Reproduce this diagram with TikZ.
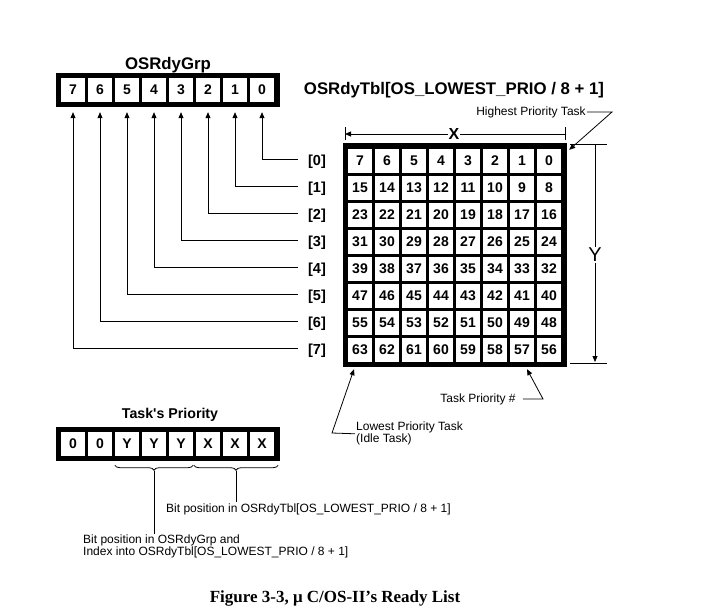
\documentclass[tikz,border=0pt]{standalone}
\usepackage{fontspec}
\setmainfont{Liberation Sans}
\newfontfamily\rawsans{Liberation Sans}
\newfontfamily\capfont{Liberation Serif}
\usetikzlibrary{arrows.meta,decorations.pathreplacing}

\begin{document}
\begin{tikzpicture}[x=1pt, y=-1pt,
  cell/.style={fill=white, minimum width=24pt, minimum height=24pt, inner sep=0pt,
    font=\fontsize{14}{14}\selectfont\bfseries},
  frame/.style={fill=black, minimum width=224pt, inner sep=0pt},
  head/.style={font=\fontsize{16.8}{17}\selectfont\bfseries},
  rowlbl/.style={font=\fontsize{14.5}{15}\selectfont\bfseries, inner xsep=10pt},
  lbl/.style={font=\fontsize{12}{12}\selectfont, inner sep=1pt},
  thinline/.style={line width=0.8pt},
  arr/.style={thinline, -{Triangle[length=6pt,width=5pt]}},
  brc/.style={thinline, decorate, decoration={brace, mirror, amplitude=5pt}}]
  \useasboundingbox (0,0) rectangle (704,613);
  % OSRdyGrp
  \node[head] (grplbl) at (168,65) {OSRdyGrp};
  \node[frame, minimum height=34pt] (grp) at (168,90) {};
  \foreach \b in {0,...,7}{
    \node[cell] (g\b) at ({262-27*\b},90) {\b};
  }
  % OSRdyTbl
  \node[head] (tbllbl) at (454,90) {OSRdyTbl[OS\_LOWEST\_PRIO / 8 + 1]};
  \node[frame, minimum height=224pt] (tbl) at (455,255) {};
  \foreach \r in {0,...,7}{
    \foreach \c in {0,...,7}{
      \pgfmathtruncatemacro{\pr}{8*\r+7-\c}
      \node[cell] (t-\r-\c) at ({360+27*\c},{161+27*\r}) {\pr};
    }
    \node[rowlbl] (row\r) at (317,{162+27*\r}) {[\r]};
    \draw[arr, shorten >=10pt] ([yshift=3pt]row\r.west) -| (g\r.south);
  }
  % X and Y
  \draw[thinline] (345,127) -- (345,140);
  \draw[thinline] (565,127) -- (565,140);
  \node[font=\fontsize{16}{16}\selectfont\bfseries, fill=white, inner sep=0.5pt] (xdim)
    at (454,134) {X};
  \draw[arr] (xdim.west) -- (345,134);
  \draw[thinline] (xdim.east) -- (565,134);
  \draw[thinline] (570,144) -- (607,144);
  \draw[thinline] (570,363) -- (607,363);
  \node[font=\fontsize{20}{20}\selectfont, fill=white, inner sep=1pt] (ydim) at (595,255) {Y};
  \draw[thinline] (ydim.north) -- (595,144);
  \draw[arr] (ydim.south) -- (595,362);
  % callouts
  \node[lbl] (hpt) at (531,112) {Highest Priority Task};
  \coordinate (hptbend) at (612,112);
  \draw[arr] (hpt.east) -- (hptbend) -- ([xshift=2pt,yshift=-7pt]tbl.north east);
  \node[lbl] (tpn) at (478,399) {Task Priority \#};
  \coordinate (tpnbend) at (543,399);
  \draw[arr, shorten <=6pt] (tpn.east) -- (tpnbend) -- ([xshift=5pt,yshift=-7pt]t-7-6.south);
  \node[lbl, anchor=north west, align=left, font=\fontsize{12}{12}\selectfont] (lpt)
    at (355,421) {Lowest Priority Task\\(Idle Task)};
  \coordinate (lptbend) at (332,433);
  \draw[arr] (lpt.west) -- (lptbend) -- ([xshift=-6pt,yshift=-7pt]t-7-0.south);
  % Task's Priority
  \node[font=\rawsans\fontsize{14.2}{15}\selectfont\bfseries] (prilbl) at (170,415)
    {Task's Priority};
  \node[frame, minimum height=34pt] (pri) at (168,444) {};
  \foreach \i/\v in {0/0,1/0,2/Y,3/Y,4/Y,5/X,6/X,7/X}{
    \node[cell] (p\i) at ({73+27*\i},444) {\v};
  }
  \draw[brc] ([yshift=-9pt]p2.south west) -- ([yshift=-9pt]p4.south east);
  \draw[brc] ([xshift=-2pt,yshift=-9pt]p5.south west) -- ([xshift=4pt,yshift=-9pt]p7.south east);
  \coordinate (ytip) at ([yshift=-15pt]p3.south);
  \coordinate (xtip) at ([xshift=1pt,yshift=-15pt]p6.south);
  \node[lbl, anchor=west] (bittbl) at (165,509) {Bit position in OSRdyTbl[OS\_LOWEST\_PRIO / 8 + 1]};
  \node[lbl, anchor=north west, align=left, font=\fontsize{12}{11.5}\selectfont] (bitgrp)
    at (82,534) {Bit position in OSRdyGrp and\\Index into OSRdyTbl[OS\_LOWEST\_PRIO / 8 + 1]};
  \draw[thinline] (ytip) -- (ytip |- bitgrp.north);
  \draw[thinline] (xtip) -- (xtip |- bittbl.north);
  % caption
  \node[font=\capfont\fontsize{17}{17}\selectfont\bfseries] (cap) at (335,598)
    {Figure 3-3, μ C/OS-II’s Ready List};
\end{tikzpicture}
\end{document}
